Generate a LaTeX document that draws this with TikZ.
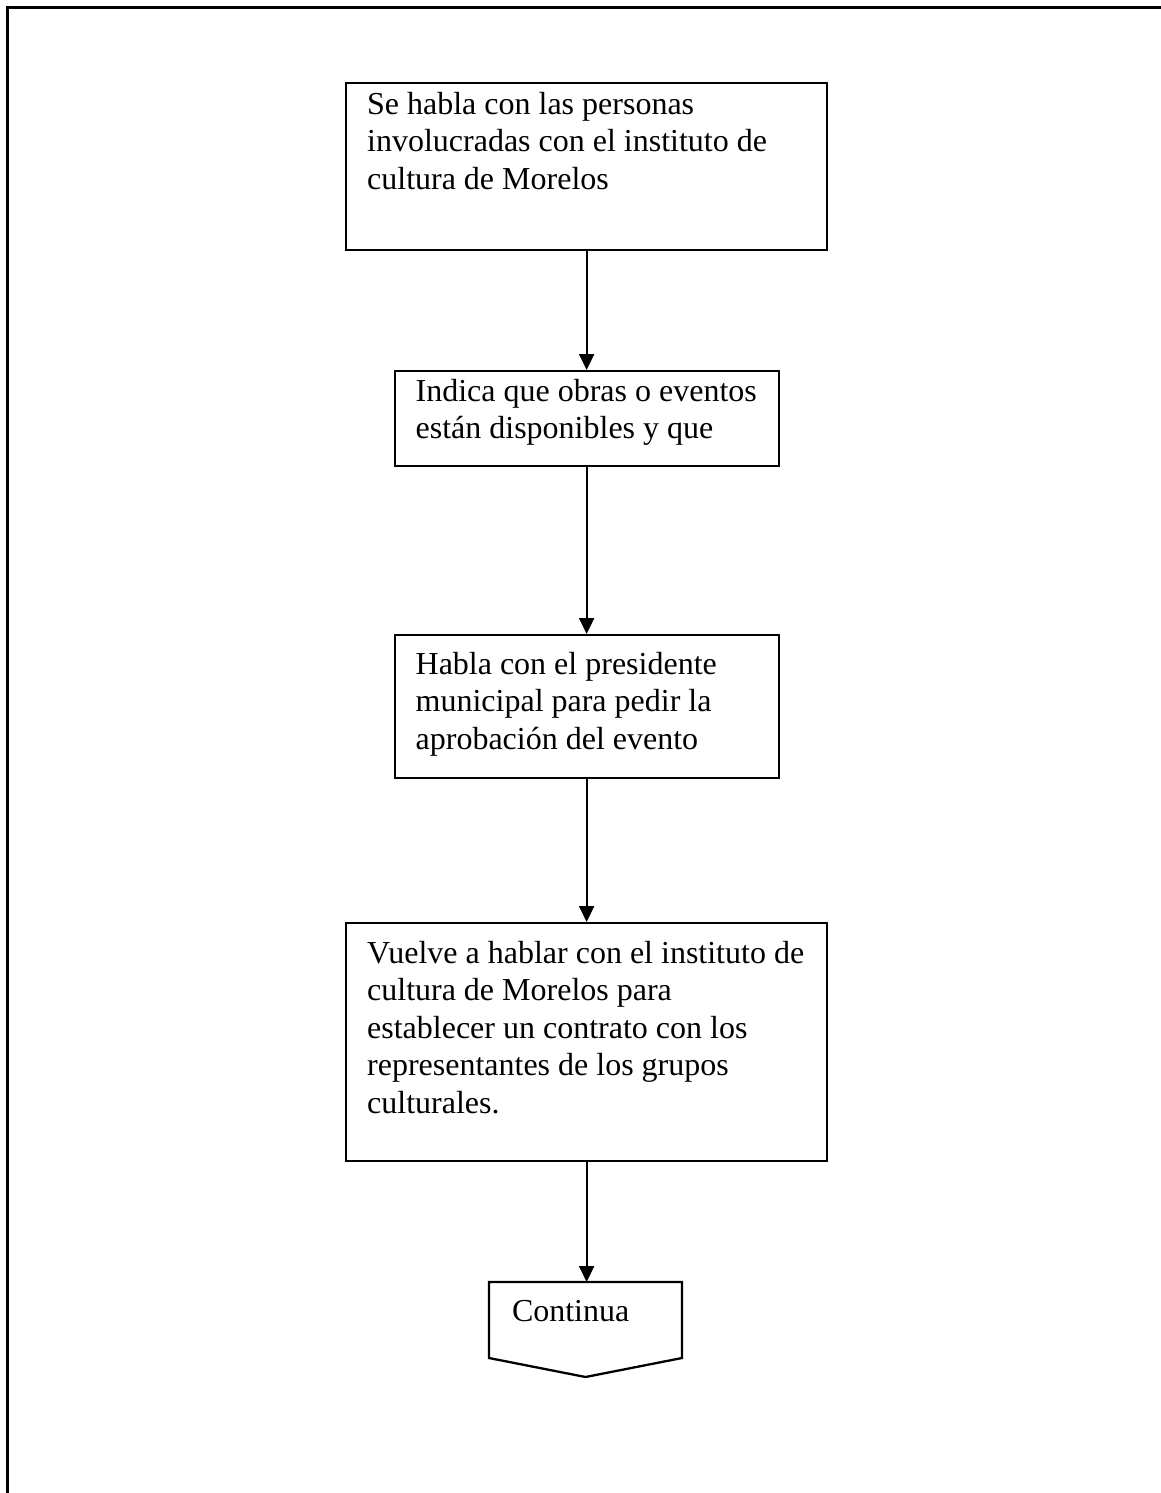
\documentclass[tikz,border=0pt]{standalone}
\usepackage{fontspec}
\setmainfont{Liberation Serif}
\usetikzlibrary{arrows.meta}

\newcommand{\textocaja}[4]{\parbox[t][#2pt][t]{#1pt}{\raggedright\leftskip=21pt\vspace*{#3pt}#4}}

\begin{document}
\begin{tikzpicture}[x=1pt, y=-1pt,
    caja/.style={draw, line width=2.3pt, inner sep=0pt, anchor=north west,
      font=\fontsize{32}{37.5}\selectfont},
    flecha/.style={-{Triangle[length=16pt,width=15pt]}, line width=2pt}]
        \useasboundingbox (0,0) rectangle (1161,1493);

        % marco
        \draw[line width=3pt] (1170,7.5) -- (7.5,7.5) -- (7.5,1500);

        \node[caja] (a) at (345,82) {\textocaja{481}{167}{9}{Se habla con las personas\\ involucradas con el instituto de\\ cultura de Morelos}};
        \node[caja] (b) at (393.5,370) {\textocaja{384}{95}{8}{Indica que obras o eventos\\ est\'an disponibles y que}};
        \node[caja] (c) at (393.5,634) {\textocaja{384}{143}{17}{Habla con el presidente\\ municipal para pedir la\\ aprobaci\'on del evento}};
        \node[caja] (d) at (345,922) {\textocaja{481}{238}{18}{Vuelve a hablar con el instituto de\\ cultura de Morelos para\\ establecer un contrato con los\\ representantes de los grupos\\ culturales.}};
        \node[caja, draw=none, outer sep=0pt] (e) at (489,1282) {\textocaja{193}{76}{18}{\hspace*{2pt}Continua}};
        \draw[line width=2.3pt] (e.north west) -- (e.north east) -- (e.south east)
            -- ([yshift=-19pt]e.south) -- (e.south west) -- cycle;

        \draw[flecha] (a.south) -- (b.north);
        \draw[flecha] (b.south) -- (c.north);
        \draw[flecha] (c.south) -- (d.north);
        \draw[flecha] (d.south) -- (d.south |- e.north);
    \end{tikzpicture}
\end{document}
